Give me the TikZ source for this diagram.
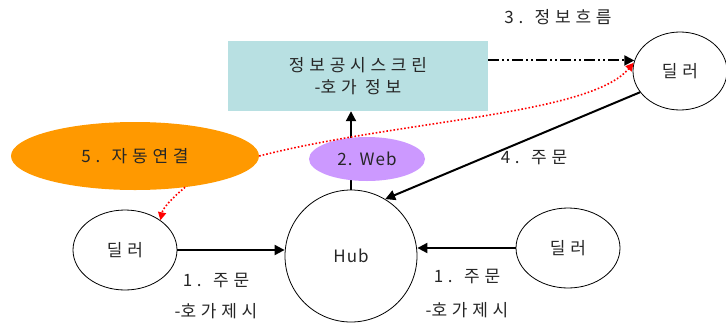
\documentclass[tikz,border=0pt]{standalone}
\usepackage{fontspec}
\setmainfont{Noto Sans CJK KR}[LetterSpace=28]
\newfontfamily\latinword{Noto Sans CJK KR}[LetterSpace=6]
\usetikzlibrary{shapes.geometric,arrows.meta,backgrounds}
\definecolor{screenfill}{HTML}{B8E0E2}
\definecolor{autofill}{HTML}{FF9900}
\definecolor{webfill}{HTML}{CC99FF}
\definecolor{txt}{HTML}{262626}
\newcommand{\dashpre}{{\latinword -}}
\tikzset{
  x=1pt, y=1pt,
  every node/.style={font=\fontsize{17}{22}\selectfont, text=txt},
  dealer/.style={ellipse, draw, line width=0.8pt, inner sep=0, minimum width=104, minimum height=80},
  blob/.style={ellipse, inner sep=0},
  flow/.style={line width=2pt, -{Triangle[length=10pt,width=10pt]}},
  linkcurve/.style={red, line width=1.6pt, dotted, -{Triangle[length=8pt,width=8pt]}},
  label/.style={inner sep=0}
}
\begin{document}
\begin{tikzpicture}
\useasboundingbox (0,0) rectangle (726,-322);

% nodes
\node[rectangle, fill=screenfill, minimum width=260, minimum height=70, inner sep=0, align=center] (screen) at (358,-76) {정보공시스크린\\\dashpre 호가 정보};
\node[dealer, minimum width=94, minimum height=78] (dtr) at (680,-71) {딜러};
\node[blob, fill=autofill, minimum width=248, minimum height=68] (auto) at (135,-156) {5. 자동연결};
\node[circle, draw, line width=0.8pt, minimum size=132, inner sep=0] (hub) at (351,-256) {\latinword Hub};
\node[dealer] (dl) at (125,-250) {딜러};
\node[dealer] (dr) at (568,-248) {딜러};
\node[blob, fill=webfill, minimum width=116, minimum height=44] (web) at (367,-159) {\latinword 2.\hspace{7pt}Web};

% Hub to screen, passing behind the Web ellipse
\begin{scope}[on background layer]
  \draw[flow] (hub.north) -- (hub.north |- screen.south);
\end{scope}

% information flow
\draw[line width=2pt, dash pattern=on 11pt off 3pt on 2pt off 3pt on 2pt off 3pt,
      -{Triangle[length=10pt,width=10pt]}] (screen.east |- dtr.167.6) -- (dtr.167.6);

% orders
\draw[flow] (dtr.208) -- (hub.59);
\draw[flow] (dl.east) -- (dl.east -| hub.west);
\draw[flow] (dr.west) -- (dr.west -| hub.east);

% automatic links
\draw[linkcurve] (auto.east) .. controls (400,-120) and (590,-115) .. (dtr.170);
\draw[linkcurve] (auto.-32) .. controls (172,-198) and (163,-208) .. (dl.40);

% labels
\node[label] (l3) at (558,-17) {3. 정보흐름};
\node[label] (l4) at (534,-157) {4. 주문};
\node[label] (l1a) at (216,-280) {1. 주문};
\node[label] (l1b) at (216,-311) {\dashpre 호가제시};
\node[label] (l1c) at (467,-276) {1. 주문};
\node[label] (l1d) at (467,-310) {\dashpre 호가제시};
\end{tikzpicture}
\end{document}
